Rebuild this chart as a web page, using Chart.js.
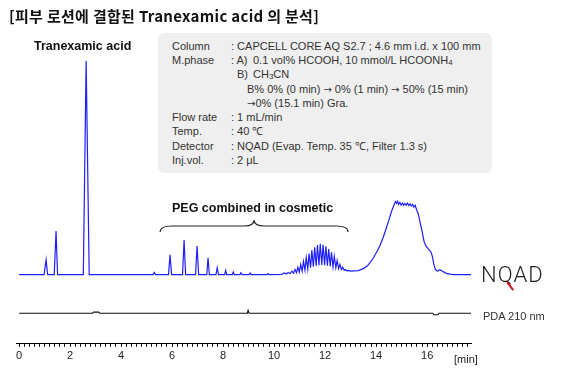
<!DOCTYPE html>
<html>
<head>
<meta charset="utf-8">
<script src="https://cdn.jsdelivr.net/npm/chart.js@4.4.1/dist/chart.umd.min.js"></script>
<style>
  body { margin:0; background:#fff; font-family:"Liberation Sans", Arial, sans-serif; }
  #stage { position:relative; width:580px; height:370px; overflow:hidden; }
  #chart { position:absolute; left:0; top:0; }
  .t { position:absolute; white-space:nowrap; line-height:14px; }
  #title { left:9px; top:6px; font:bold 15px "Noto Sans CJK KR", sans-serif; color:#111; line-height:20px; letter-spacing:0.3px; }
  .peak { font-weight:bold; font-size:12.5px; color:#111; }
  #info { position:absolute; left:158px; top:33px; width:334px; height:140px; background:#efefef; border-radius:6px; }
  #info .t { font-size:11px; color:#333; }
  #info sub { font-size:8px; vertical-align:-1px; }
  .ar { font-family:"DejaVu Sans", sans-serif; font-size:10px; }
  #nqad { left:481px; top:262px; font:300 22px Roboto, sans-serif; color:#222; letter-spacing:1px; line-height:26px; }
  #qtail { position:absolute; left:505px; top:285px; width:10px; height:2.4px; background:#d0121b; transform:rotate(52deg); }
  #pda { left:483px; top:309px; font-size:11px; color:#333; }
  #unit { left:454px; top:352px; font-size:11px; color:#222; }
</style>
</head>
<body>
<div id="stage">
  <canvas id="chart" width="580" height="370"></canvas>
  <div class="t" id="title">[피부 로션에 결합된 Tranexamic acid 의 분석]</div>
  <div class="t peak" style="left:34px;top:39px">Tranexamic acid</div>
  <div id="info">
    <div class="t" style="left:14px;top:6px">Column</div><div class="t" style="left:73px;top:6px">: CAPCELL CORE AQ S2.7 ; 4.6 mm i.d. x 100 mm</div>
    <div class="t" style="left:14px;top:20px">M.phase</div><div class="t" style="left:73px;top:20px">: A)</div><div class="t" style="left:95px;top:20px">0.1 vol% HCOOH, 10 mmol/L HCOONH<sub>4</sub></div>
    <div class="t" style="left:79px;top:34px">B)</div><div class="t" style="left:95px;top:34px">CH<sub>3</sub>CN</div>
    <div class="t" style="left:89px;top:49px">B% 0% (0 min) <span class="ar">→</span> 0% (1 min) <span class="ar">→</span> 50% (15 min)</div>
    <div class="t" style="left:89px;top:63px"><span class="ar">→</span>0% (15.1 min) Gra.</div>
    <div class="t" style="left:14px;top:77px">Flow rate</div><div class="t" style="left:73px;top:77px">: 1 mL/min</div>
    <div class="t" style="left:14px;top:91px">Temp.</div><div class="t" style="left:73px;top:91px">: 40 ℃</div>
    <div class="t" style="left:14px;top:106px">Detector</div><div class="t" style="left:73px;top:106px">: NQAD (Evap. Temp. 35 ℃, Filter 1.3 s)</div>
    <div class="t" style="left:14px;top:120px">Inj.vol.</div><div class="t" style="left:73px;top:120px">: 2 μL</div>
  </div>
  <div class="t peak" style="left:172px;top:201px">PEG combined in cosmetic</div>
  <div class="t" id="nqad">NQAD</div>
  <div id="qtail"></div>
  <div class="t" id="pda">PDA 210 nm</div>
  <div class="t" id="unit">[min]</div>
</div>
<script>
// retention time (min) and detector response (tranexamic acid peak = 100)
const nqadTime = [
  0, 0.98, 1.06, 1.12, 1.38, 1.45, 1.51, 2.52, 2.63, 2.75,
  5.25, 5.3, 5.35, 5.86, 5.92, 5.98, 6.41, 6.47, 6.53, 6.92, 6.98, 7.04,
  7.36, 7.41, 7.46, 7.72, 7.77, 7.82, 8.06, 8.1, 8.14, 8.36, 8.4, 8.44,
  8.66, 8.7, 8.74, 9.02, 9.06, 9.1, 9.72, 9.76, 9.8,
  10.3, 10.4, 10.47, 10.55, 10.62, 10.7, 10.76, 10.82, 10.88, 10.93, 10.99,
  11.04, 11.1, 11.15, 11.21, 11.26, 11.32, 11.37, 11.43, 11.48, 11.54,
  11.59, 11.65, 11.7, 11.76, 11.81, 11.87, 11.92, 11.98, 12.03, 12.09,
  12.14, 12.2, 12.25, 12.31, 12.36, 12.42, 12.47, 12.53, 12.58, 12.64,
  12.69, 12.75, 12.8, 12.86, 12.92, 13.0,
  13.3, 13.5, 13.65, 13.76, 13.9, 14.05, 14.16, 14.28, 14.4, 14.5, 14.6, 14.7,
  14.76, 14.8, 14.84, 14.88, 14.93, 14.98, 15.03, 15.08, 15.13, 15.18, 15.23,
  15.28, 15.33, 15.38, 15.43, 15.48, 15.53, 15.58, 15.65, 15.72, 15.8, 15.88,
  15.95, 16.05, 16.15, 16.2, 16.26, 16.32, 16.4, 16.5, 16.6, 16.75, 16.9, 17.05, 17.72
];
const nqadSignal = [
  0, 0, 6.9, 0, 0, 20.4, 0, 0, 100, 0,
  0, 1.0, 0, 0, 9.3, 0, 0, 16.2, 0, 0, 13.4, 0,
  0, 7.9, 0, 0, 3.2, 0, 0, 1.9, 0, 0, 1.2, 0,
  0, 0.9, 0, 0, 0.7, 0, 0, 0.5, 0,
  0.1, 0.8, 0.3, 1.0, 0.4, 1.6, 0.6, 2.4, 0.9, 3.4, 1.2,
  4.7, 1.6, 6.2, 2.1, 8.0, 2.6, 9.8, 3.2, 11.4, 3.7,
  12.8, 4.1, 13.8, 4.4, 14.4, 4.5, 14.0, 4.4, 13.2, 4.2,
  12.0, 3.9, 10.4, 3.6, 8.6, 3.2, 6.6, 2.8, 4.8, 2.4,
  3.4, 2.0, 2.4, 1.7, 2.0, 1.6,
  1.9, 2.8, 4.0, 5.6, 8.0, 11.2, 13.9, 17.5, 21.8, 25.5, 29.4, 32.6,
  34.2, 33.4, 34.3, 32.9, 33.8, 32.6, 33.5, 32.4, 33.3, 32.5, 33.4,
  32.3, 33.1, 32.1, 32.9, 31.6, 32.4, 30.6, 28.5, 24.8, 20.4, 15.5,
  13.4, 12.0, 10.6, 8.8, 5.0, 2.5, 1.6, 2.3, 1.6, 0.6, 0.2, 0, 0
];
const pdaTime   = [0, 2.88, 2.92, 3.12, 3.16, 8.95, 8.98, 9.02, 16.22, 16.26, 16.42, 16.46, 17.72];
const pdaSignal = [0, 0, 0.5, 0.5, 0, 0, 1.3, 0, 0, -0.7, -0.7, 0, 0];
const timeLabels = [0, 2, 4, 6, 8, 10, 12, 14, 16];

const PDA_OFFSET = -18.1;

function toPoints(xs, ys, off){
  return xs.map((x, i) => ({ x: x, y: ys[i] + (off || 0) }));
}

// curly brace over the PEG peaks
const bracePlugin = {
  id: 'brace',
  afterDatasetsDraw(chart){
    const c = chart.ctx, xs = chart.scales.x;
    const a = xs.getPixelForValue(5.53), b = xs.getPixelForValue(12.9), m = (a + b) / 2;
    const top = 220, mid = 226, bot = 232;
    c.save();
    c.strokeStyle = '#222'; c.lineWidth = 1.1;
    c.beginPath();
    c.moveTo(a, bot);
    c.quadraticCurveTo(a, mid, a + 12, mid);
    c.lineTo(m - 10, mid);
    c.quadraticCurveTo(m, mid, m, top);
    c.quadraticCurveTo(m, mid, m + 10, mid);
    c.lineTo(b - 12, mid);
    c.quadraticCurveTo(b, mid, b, bot);
    c.stroke();
    c.restore();
  }
};

new Chart(document.getElementById('chart'), {
  type: 'line',
  data: {
    datasets: [
      { label: 'NQAD', data: toPoints(nqadTime, nqadSignal), borderColor: '#1e1eff', borderWidth: 1.2, clip: false },
      { label: 'PDA 210 nm', data: toPoints(pdaTime, pdaSignal, PDA_OFFSET), borderColor: '#111', borderWidth: 1.2, clip: false }
    ]
  },
  options: {
    responsive: false,
    animation: false,
    parsing: false,
    elements: { point: { radius: 0 }, line: { tension: 0 } },
    layout: { padding: { left: 16, right: 109, top: 61, bottom: 4 } },
    plugins: { legend: { display: false }, tooltip: { enabled: false } },
    scales: {
      x: {
        type: 'linear', min: -0.12, max: 17.72,
        border: { display: true, color: '#000', width: 1 },
        grid: { display: true, drawOnChartArea: false, drawTicks: true, tickLength: 3, color: '#000' },
        ticks: {
          stepSize: 0.2, autoSkip: false, includeBounds: false, maxRotation: 0, padding: 3,
          color: '#222', font: { family: 'Liberation Sans', size: 11 },
          callback: v => {
            const r = Math.round(v);
            return (Math.abs(v - r) < 1e-6 && timeLabels.includes(r)) ? String(r) : '';
          }
        }
      },
      y: { display: false, min: -32.4, max: 100 }
    }
  },
  plugins: [bracePlugin]
});
</script>
</body>
</html>
